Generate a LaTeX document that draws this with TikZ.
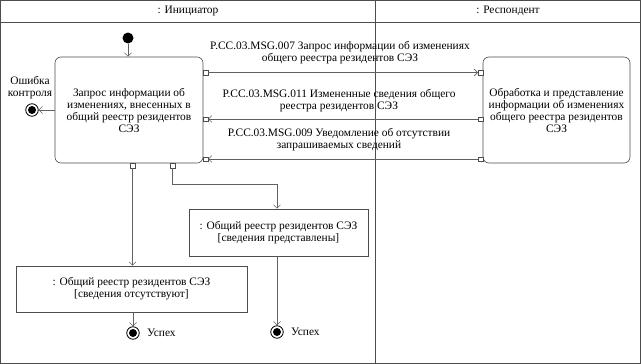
\documentclass[tikz,border=0pt]{standalone}
\usepackage{fontspec}
\setmainfont{Liberation Serif}
\usetikzlibrary{arrows.meta,positioning}
\definecolor{linegray}{gray}{0.38}
\definecolor{boxgray}{gray}{0.3}
\tikzset{
  frame/.style={draw=boxgray,line width=0.6pt},
  action/.style={draw=boxgray,line width=0.6pt,rounded corners=6pt,align=center,inner sep=0pt},
  objbox/.style={draw=boxgray,line width=0.6pt,align=center,inner sep=0pt},
  pinbox/.style={draw=boxgray,fill=white,line width=0.5pt,inner sep=0pt,minimum size=4.5pt},
  flow/.style={draw=linegray,line width=0.6pt,-{Straight Barb[length=3.5pt,width=7pt]}},
  initnode/.style={circle,fill=black,inner sep=0pt,minimum size=11pt},
  finalnode/.style={circle,draw=black,line width=0.8pt,fill=white,inner sep=0pt,minimum size=12.5pt,
    path picture={\fill[black] (path picture bounding box.center) circle (4pt);}},
  msg/.style={align=center,inner sep=1pt}
}
\begin{document}
\begin{tikzpicture}[x=1pt,y=-1pt,font=\fontsize{11.4}{12}\selectfont]
  \useasboundingbox (0,0) rectangle (641,364);
  % corsie
  \draw[frame] (0.5,0.5) rectangle (640,363.5);
  \draw[frame] (0.5,22) -- (640,22);
  \draw[frame] (375.5,0.5) -- (375.5,363.5);
  \node (lane1) at (188,11) {: Инициатор};
  \node (lane2) at (508,11) {: Респондент};
  % azioni
  \node[initnode] (start) at (128,38) {};
  \node[action,minimum width=148pt,minimum height=106pt] (req) at (129,110)
    {Запрос информации об\\изменениях, внесенных в\\общий реестр резидентов\\СЭЗ};
  \node[action,minimum width=147pt,minimum height=106pt] (proc) at (556.5,110)
    {Обработка и представление\\информации об изменениях\\общего реестра резидентов\\СЭЗ};
  % pin
  \node[pinbox] (reqout) at (205.5,72.5) {};
  \node[pinbox] (reqin1) at (205.5,119) {};
  \node[pinbox] (reqin2) at (205.5,159) {};
  \node[pinbox] (procin) at (480.5,72.5) {};
  \node[pinbox] (procout1) at (480.5,119) {};
  \node[pinbox] (procout2) at (480.5,159) {};
  \node[pinbox] (reqno) at (132.5,165.5) {};
  \node[pinbox] (reqyes) at (172.5,165.5) {};
  % messaggi
  \draw[flow] (reqout) -- (procin);
  \draw[flow] (procout1) -- (reqin1);
  \draw[flow] (procout2) -- (reqin2);
  \node[msg] (msg1) at (340,52.5) {P.CC.03.MSG.007 Запрос информации об изменениях\\общего реестра резидентов СЭЗ};
  \node[msg] (msg2) at (339,100.5) {P.CC.03.MSG.011 Измененные сведения общего\\реестра резидентов СЭЗ};
  \node[msg] (msg3) at (339,139.5) {P.CC.03.MSG.009 Уведомление об отсутствии\\запрашиваемых сведений};
  % inizio ed errore
  \draw[flow] (start) -- (start |- req.north);
  \node[finalnode] (err) at (32,110) {};
  \node[align=center,inner sep=0pt] (errlbl) at (30,88) {Ошибка\\контроля};
  \draw[flow] (req.west) -- (err);
  % oggetti
  \node[objbox,minimum width=231pt,minimum height=46pt] (none) at (131.5,289)
    {: Общий реестр резидентов СЭЗ\\{}[сведения отсутствуют]};
  \node[objbox,minimum width=179pt,minimum height=47pt] (given) at (278.5,232.5)
    {: Общий реестр резидентов СЭЗ\\{}[сведения представлены]};
  \coordinate (knee) at (277,184);
  \draw[flow] (reqno) -- (reqno |- none.north);
  \draw[flow] (reqyes) |- (knee) -- (knee |- given.north);
  % fine
  \node[finalnode] (endno) at (133,333) {};
  \node[right=4pt of endno] (endnolbl) {Успех};
  \node[finalnode] (endyes) at (277,332) {};
  \node[right=4pt of endyes] (endyeslbl) {Успех};
  \draw[flow] (none.south -| endno) -- (endno);
  \draw[flow] (given.south -| endyes) -- (endyes);
\end{tikzpicture}
\end{document}
